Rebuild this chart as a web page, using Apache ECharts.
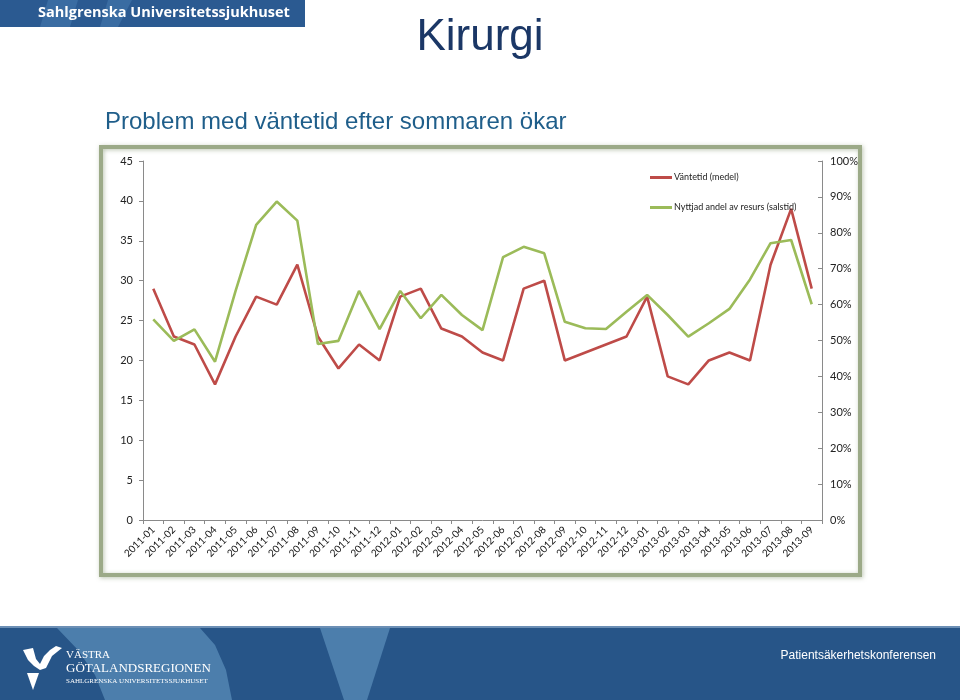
<!DOCTYPE html>
<html>
<head>
<meta charset="utf-8">
<script src="https://cdn.jsdelivr.net/npm/echarts@6/dist/echarts.min.js"></script>
<style>
html,body{margin:0;padding:0;background:#fff;}
#c{width:960px;height:700px;}
</style>
</head>
<body>
<div id="c"></div>
<script>
var categories = ['2011-01','2011-02','2011-03','2011-04','2011-05','2011-06','2011-07','2011-08','2011-09','2011-10','2011-11','2011-12',
  '2012-01','2012-02','2012-03','2012-04','2012-05','2012-06','2012-07','2012-08','2012-09','2012-10','2012-11','2012-12',
  '2013-01','2013-02','2013-03','2013-04','2013-05','2013-06','2013-07','2013-08','2013-09'];
var vantetid = [29,23,22,17,23,28,27,32,23,19,22,20,28,29,24,23,21,20,29,30,20,21,22,23,28,18,17,20,21,20,32,39,29];
var nyttjad = [55.9,49.9,53.1,44.1,63.8,82.2,88.7,83.4,49.0,49.9,63.8,53.2,63.8,56.2,62.7,57.1,52.9,73.2,76.1,74.3,55.2,53.4,53.2,58.0,62.7,57.1,51.1,54.8,58.8,67.0,77.1,78.0,60.1];
var seriesNames = ['Väntetid (medel)','Nyttjad andel av resurs (salstid)'];
var leftTicks = {min:0, max:45, interval:5};
var rightTicks = {min:0, max:100, interval:10};

var chart = echarts.init(document.getElementById('c'));
var axisFont = 'Lato, "Open Sans", sans-serif';
function txt(x, y, s, fill, font, align) {
  return {type:'text', x:x, y:y, z:5, style:{text:s, fill:fill, font:font, textAlign:align||'left', textVerticalAlign:'top'}};
}
var option = {
  animation:false,
  backgroundColor:'#fff',
  textStyle:{fontFamily:axisFont},
  graphic:{elements:[
    {type:'rect', shape:{x:0,y:0,width:305,height:27}, style:{fill:'#2B5A91'}, z:1},
    {type:'polygon', shape:{points:[[48,0],[78,0],[70,27],[40,27]]}, style:{fill:'#3A6CA2'}, z:2},
    {type:'polygon', shape:{points:[[108,0],[132,0],[118,27],[100,27]]}, style:{fill:'#3A6CA2'}, z:2},
    txt(38, 5, 'Sahlgrenska Universitetssjukhuset', '#fff', 'bold 14.5px "Open Sans", "DejaVu Sans", sans-serif'),
    txt(480, 16, 'Kirurgi', '#1B3766', '44px "Liberation Sans", Arial, sans-serif', 'center'),
    txt(105, 110, 'Problem med väntetid efter sommaren ökar', '#1F5E8A', '24px "Liberation Sans", Arial, sans-serif'),
    {type:'rect', shape:{x:101,y:147,width:759,height:428}, style:{fill:'none', stroke:'#9CAA88', lineWidth:4, shadowBlur:4, shadowColor:'rgba(120,140,100,0.5)', shadowOffsetX:1, shadowOffsetY:1}, z:0},
    {type:'rect', shape:{x:0,y:627,width:960,height:73}, style:{fill:'#275588'}, z:1},
    {type:'rect', shape:{x:0,y:626,width:960,height:2}, style:{fill:'#6C8FB5'}, z:2},
    {type:'polygon', shape:{points:[[57,628],[200,628],[215,645],[226,670],[232,700],[105,700],[95,675],[78,650]]}, style:{fill:'#4C7EAC'}, z:2},
    {type:'polygon', shape:{points:[[320,628],[390,628],[367,700],[344,700]]}, style:{fill:'#4C7EAC'}, z:2},
    {type:'polygon', shape:{points:[[23,650],[33,648],[36,659],[40,664],[44,656],[50,650],[56,646],[62,648],[52,656],[46,668],[40,670],[34,666],[28,660]]}, style:{fill:'#fff'}, z:3},
    {type:'polygon', shape:{points:[[27,673],[39,673],[33,690]]}, style:{fill:'#fff'}, z:3},
    txt(66, 650, 'VÄSTRA', '#fff', '11px "Liberation Serif", serif'),
    txt(66, 662, 'GÖTALANDSREGIONEN', '#fff', '13px "Liberation Serif", serif'),
    txt(66, 678, 'SAHLGRENSKA UNIVERSITETSSJUKHUSET', '#fff', '7px "Liberation Serif", serif'),
    txt(936, 650, 'Patientsäkerhetskonferensen', '#fff', '12px "Liberation Sans", sans-serif', 'right')
  ]},
  legend:{
    orient:'vertical', left:645, top:168, itemWidth:22, itemHeight:3, itemGap:21,
    icon:'rect',
    data:seriesNames,
    textStyle:{fontSize:9, color:'#222', fontFamily:axisFont, padding:[0,0,0,-3]}
  },
  grid:{left:143, right:138, top:161, bottom:180, containLabel:false},
  xAxis:{
    type:'category', data:categories, boundaryGap:true,
    axisLine:{lineStyle:{color:'#8A8A8A'}},
    axisTick:{show:true, length:4, lineStyle:{color:'#8A8A8A'}},
    axisLabel:{rotate:45, interval:0, fontSize:10, color:'#111', margin:8}
  },
  yAxis:[
    {type:'value', min:leftTicks.min, max:leftTicks.max, interval:leftTicks.interval, position:'left',
     axisLine:{show:true, lineStyle:{color:'#8A8A8A'}},
     axisTick:{show:true, length:4, lineStyle:{color:'#8A8A8A'}},
     splitLine:{show:false},
     axisLabel:{fontSize:11, color:'#222', margin:10}},
    {type:'value', min:rightTicks.min, max:rightTicks.max, interval:rightTicks.interval, position:'right',
     axisLine:{show:true, lineStyle:{color:'#8A8A8A'}},
     axisTick:{show:true, length:4, inside:true, lineStyle:{color:'#8A8A8A'}},
     splitLine:{show:false},
     axisLabel:{fontSize:11, color:'#222', margin:8, formatter:'{value}%'}}
  ],
  series:[
    {name:seriesNames[0], type:'line', data:vantetid, yAxisIndex:0, symbol:'none', color:'#BE4B48',
     lineStyle:{width:2.6, color:'#BE4B48'}},
    {name:seriesNames[1], type:'line', data:nyttjad, yAxisIndex:1, symbol:'none', color:'#9BBB59',
     lineStyle:{width:2.6, color:'#9BBB59'}}
  ]
};
chart.setOption(option);
</script>
</body>
</html>
